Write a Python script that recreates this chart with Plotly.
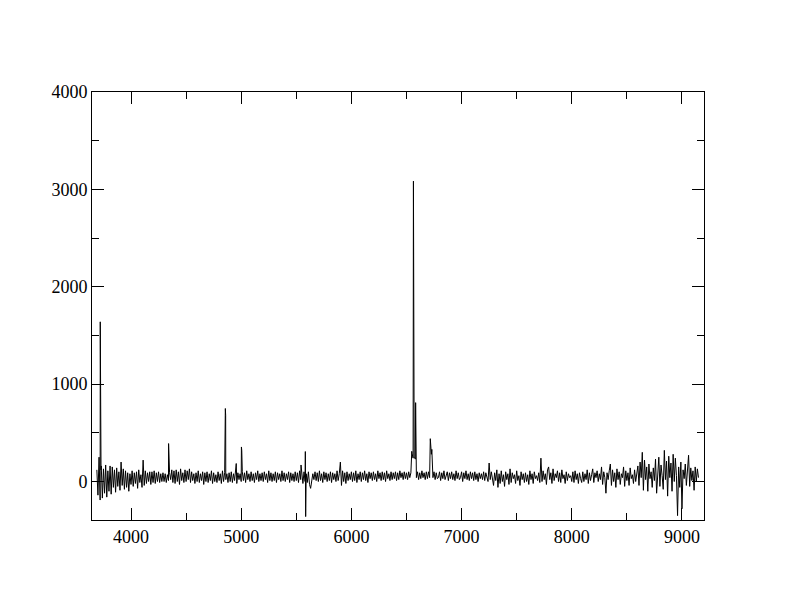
import plotly.graph_objects as go

# Continuum / noise samples, one every 10 Å starting at 3690 Å
wave_start = 3690
wave_step = 10
flux_continuum = [
    120, -140, 250, -190, 160, -170, 130, -120, 170, -160,   # 3690
    110, -100, 160, -130, 150, -60, 120, -110, 140, -50,     # 3790
    100, -90, 200, -40, 130, -80, 110, -60, 90, -100,        # 3890
    80, -30, 110, -50, 90, -20, 100, -70, 120, -10,          # 3990
    70, -60, 220, -40, 110, -20, 90, 0, 100, -30,            # 4090
    100, -10, 110, -20, 90, 0, 100, -10, 80, 0,              # 4190
    90, 0, 80, -10, 70, 10, 90, 20, 120, -10,                # 4290
    110, -20, 120, 0, 100, -30, 130, 10, 90, -10,            # 4390
    120, 0, 110, 20, 130, -10, 100, 10, 80, -20,             # 4490
    90, 0, 110, -10, 80, 10, 100, -30, 90, 0,                # 4590
    100, -10, 80, 10, 110, -20, 90, 0, 70, -10,              # 4690
    100, 10, 80, -20, 110, 0, 90, 20, 80, -10,               # 4790
    90, 0, 100, -10, 80, 10, 110, -20, 90, 20,               # 4890
    80, 0, 100, 10, 90, -10, 110, 20, 80, 0,                 # 4990
    100, 10, 80, -10, 90, 20, 110, 0, 80, 10,                # 5090
    90, 0, 100, 20, 80, -10, 110, 10, 90, 0,                 # 5190
    80, 10, 100, -10, 90, 20, 80, 0, 110, 10,                # 5290
    90, 0, 80, 20, 100, -10, 90, 10, 80, 0,                  # 5390
    100, 10, 90, -10, 110, 20, 80, -20, 100, 0,              # 5490
    80, -10, 100, -30, -70, 0, 80, 20, 100, 10,              # 5590
    90, 0, 110, 10, 80, -10, 100, 20, 90, 0,                 # 5690
    80, 10, 100, -10, 90, 20, 80, 0, 110, 10,                # 5790
    80, 200, -40, 110, 0, 90, -20, 100, 10, 80,              # 5890
    20, 100, 0, 90, 10, 110, -10, 80, 20, 100,               # 5990
    0, 90, 20, 110, 10, 80, -10, 100, 30, 90,                # 6090
    10, 100, 20, 80, 0, 110, 30, 90, 10, 100,                # 6190
    20, 90, 0, 110, 30, 80, 10, 100, 20, 90,                 # 6290
    30, 100, 10, 90, 20, 110, 40, 90, 20, 100,               # 6390
    30, 90, 20, 100, 40, 90, 290, 240, 260, 230,             # 6490
    40, 100, 20, 90, 30, 110, 40, 90, 20, 100,               # 6590
    30, 100, 40, 300, 330, 40, 100, 20, 90, 30,              # 6690
    40, 100, 10, 90, 30, 110, 20, 80, 100, 10,               # 6790
    90, 30, 100, 20, 80, 10, 110, 30, 90, 20,                # 6890
    40, 100, 0, 90, 30, 110, 20, 80, 10, 100,                # 6990
    30, 90, 10, 100, 20, 80, 0, 90, 30, 80,                  # 7090
    20, 100, 10, 90, 30, 0, 190, 20, 100, 10,                # 7190
    -40, 90, 10, 120, -60, 80, -20, 110, 0, 70,              # 7290
    -50, 100, 20, 80, -30, 130, -10, 90, 30, 70,             # 7390
    -20, 110, 10, 60, -40, 100, 20, 80, -10, 90,             # 7490
    0, 70, -30, 110, 20, 80, -20, 100, 30, 60,               # 7590
    10, 90, -10, 240, 0, 110, 20, 80, -30, 120,              # 7690
    150, 20, 90, -20, 130, 10, 80, 40, 110, 0,               # 7790
    90, -10, 120, 30, 70, -20, 100, 10, 80, 40,              # 7890
    60, 0, 100, -10, 110, 20, 80, -20, 90, 30,               # 7990
    -10, 100, 0, 80, 20, 120, -20, 90, 10, 70,               # 8090
    130, -10, 90, 40, 110, 0, 80, 20, 150, -30,              # 8190
    100, 40, -120, 90, 20, 110, 180, -40, 120, 0,            # 8290
    90, -60, 130, 20, 100, -30, 80, 40, 150, -50,            # 8390
    110, 10, 90, -40, 140, 30, 70, -20, 120, 0,              # 8490
    80, 160, -40, 200, 40, 300, -90, 220, 20, 150,           # 8590
    -100, 180, 30, 100, -60, 140, 10, 230, -120, 90,         # 8690
    250, -50, 170, 60, -80, 320, 20, 210, -150, 260,         # 8790
    40, 190, -100, 280, 0, 240, 60, -350, 150, -60,          # 8890
    200, -280, 120, 30, 180, -40, 90, 270, -50, 140,         # 8990
    10, 110, -90, 150, 0, 130, 40,                           # 9090
]

# Emission lines and sky residuals (narrow features)
line_wave = [3721, 3723, 3726, 3728, 4341, 4856, 4859, 4955, 5002, 5005, 5543,
             5582, 5585, 6548, 6563, 6583, 6586, 6716, 6726]
line_flux = [1640, 150, 1190, 120, 390, 750, 680, 185, 355, 320, 170,
             308, -360, 310, 3085, 810, 590, 440, 280]

# Axis settings
x_range = [3646, 9200]
y_range = [-395, 4000]
x_ticks = [4000, 5000, 6000, 7000, 8000, 9000]
y_ticks = [0, 1000, 2000, 3000, 4000]
x_minor = [4500, 5500, 6500, 7500, 8500]
y_minor = [500, 1500, 2500, 3500]

cont_wave = [wave_start + wave_step * i for i in range(len(flux_continuum))]
pairs = sorted(list(zip(cont_wave, flux_continuum)) + list(zip(line_wave, line_flux)))
wave = [p[0] for p in pairs]
flux = [p[1] for p in pairs]

fig = go.Figure()
fig.add_trace(go.Scatter(x=wave, y=flux, mode="lines",
                         line=dict(color="black", width=1), showlegend=False))

font = dict(family="Liberation Serif, Times New Roman, serif", size=18, color="black")
axis_common = dict(showgrid=False, zeroline=False, showline=True, linecolor="black",
                   linewidth=1, mirror="allticks", ticks="inside", ticklen=12,
                   tickwidth=1, tickcolor="black", tickfont=font)

fig.update_xaxes(range=x_range, tickvals=x_ticks, **axis_common,
                 minor=dict(ticks="inside", ticklen=7, tickwidth=1, tickcolor="black",
                            tickvals=x_minor, showgrid=False))
fig.update_yaxes(range=y_range, tickvals=y_ticks, **axis_common,
                 minor=dict(ticks="inside", ticklen=7, tickwidth=1, tickcolor="black",
                            tickvals=y_minor, showgrid=False))

# page body adds an 8px offset, so margins are shifted to keep the frame in place
fig.update_layout(width=792, height=612, paper_bgcolor="white", plot_bgcolor="white",
                  margin=dict(l=84, r=96, t=84, b=100), font=font)

fig.write_html("out.html")
